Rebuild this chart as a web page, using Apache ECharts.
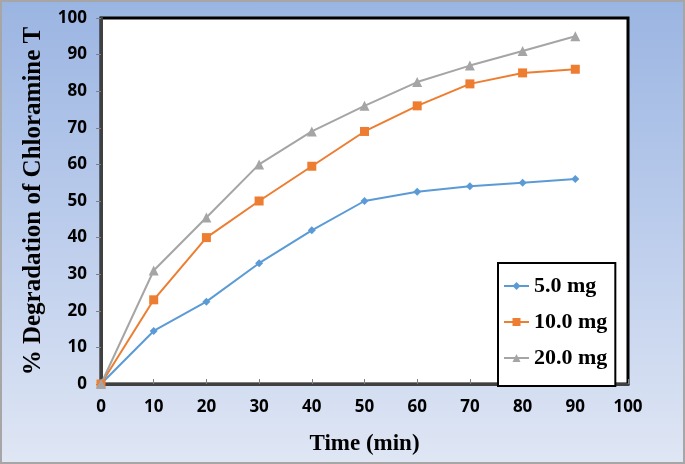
<!DOCTYPE html>
<html><head><meta charset="utf-8">
<script src="https://cdn.jsdelivr.net/npm/echarts@6/dist/echarts.min.js"></script>
<style>
html,body{margin:0;padding:0;}
#c{width:681px;height:460px;border:2px solid #a6a6a6;background:linear-gradient(to bottom,#9bb5e2 0%,#bccdec 50%,#dfe6f4 100%);}
</style></head><body>
<div id="c"></div>
<script>
const times = [0,10,20,30,40,50,60,70,80,90];
const s5 = [0,14.5,22.5,33,42,50,52.5,54,55,56];
const s10 = [0,23,40,50,59.5,69,76,82,85,86];
const s20 = [0,31,45.5,60,69,76,82.5,87,91,95];
const names = ['5.0 mg','10.0 mg','20.0 mg'];
const pairs = a => times.map((t,i)=>[t,a[i]]);
const chart = echarts.init(document.getElementById('c'));
const tickFont = {fontFamily:'Open Sans',fontWeight:'bold',fontSize:17,color:'#000'};
chart.setOption({
  animation:false,
  grid:{left:99,right:55,top:16,bottom:78,show:true,backgroundColor:'#fff',borderColor:'#000',borderWidth:3},
  xAxis:{type:'value',min:0,max:100,interval:10,name:'Time (min)',nameLocation:'middle',nameGap:49,
    nameTextStyle:{fontFamily:'Liberation Serif',fontWeight:'bold',fontSize:23,color:'#000'},
    axisLine:{show:true,onZero:false,lineStyle:{color:'#404040',width:3}},
    axisTick:{show:true,inside:true,length:5,lineStyle:{color:'#7f7f7f',width:1}},
    axisLabel:Object.assign({margin:15},tickFont),splitLine:{show:false}},
  yAxis:{type:'value',min:0,max:100,interval:10,name:'% Degradation of Chloramine T',nameLocation:'middle',nameGap:55,
    nameTextStyle:{fontFamily:'Liberation Serif',fontWeight:'bold',fontSize:25,color:'#000'},
    axisLine:{show:true,lineStyle:{color:'#404040',width:3}},
    axisTick:{show:true,length:5,lineStyle:{color:'#7f7f7f',width:1}},
    axisLabel:Object.assign({margin:14},tickFont),splitLine:{show:false}},
  legend:{orient:'vertical',left:496,top:261,itemGap:14,padding:[12,8,17,5],
    backgroundColor:'#fff',borderColor:'#000',borderWidth:2,itemWidth:25,itemHeight:10,
    textStyle:{fontFamily:'Liberation Serif',fontWeight:'bold',fontSize:22,color:'#000'},
    data:names},
  series:[
    {name:names[0],type:'line',data:pairs(s5),symbol:'diamond',symbolSize:8,color:'#5b9bd5',lineStyle:{width:2}},
    {name:names[1],type:'line',data:pairs(s10),symbol:'rect',symbolSize:9,color:'#ed7d31',lineStyle:{width:2}},
    {name:names[2],type:'line',data:pairs(s20),symbol:'triangle',symbolSize:10,color:'#a5a5a5',lineStyle:{width:2}}
  ]
});
</script></body></html>
